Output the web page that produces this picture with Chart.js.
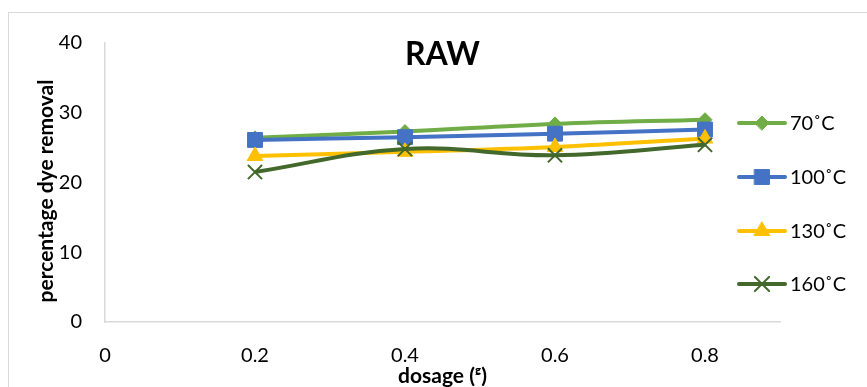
<!DOCTYPE html>
<html>
<head>
<meta charset="utf-8">
<script src="https://cdn.jsdelivr.net/npm/chart.js@4/dist/chart.umd.min.js"></script>
<style>
  html, body { margin: 0; padding: 0; background: #fff; }
  canvas { display: block; }
</style>
</head>
<body>
<canvas id="rawChart" width="867" height="387"></canvas>
<script>
// dosage in grams, removal in %
const dosage = [0.2, 0.4, 0.6, 0.8];
const temp70 = [26.4, 27.3, 28.4, 29.0];
const temp100 = [26.1, 26.5, 27.0, 27.6];
const temp130 = [23.8, 24.4, 25.1, 26.3];
const temp160 = [21.5, 24.8, 23.9, 25.4];
const xTicks = [0, 0.2, 0.4, 0.6, 0.8];
const yTicks = [0, 10, 20, 30, 40];

const seriesLabels = ['70˚C', '100˚C', '130˚C', '160˚C'];
const seriesColors = ['#70AD47', '#4472C4', '#FFC000', '#43682B'];
const seriesValues = [temp70, temp100, temp130, temp160];
const markers = [
  { style: 'rectRot', radius: 7 },
  { style: 'rect', radius: 10.5 },
  { style: 'triangle', radius: 9 },
  { style: 'crossRot', radius: 10 }
];

const FONT = 'Lato, "Open Sans", sans-serif';

// Excel-style legend on the right: line segment with the marker in the middle
const sideLegend = {
  id: 'sideLegend',
  afterDraw(chart) {
    const ctx = chart.ctx;
    const rows = [123, 177, 231, 284];
    ctx.save();
    chart.data.datasets.forEach((ds, i) => {
      const y = rows[i];
      ctx.strokeStyle = ds.borderColor;
      ctx.fillStyle = ds.backgroundColor;
      ctx.lineWidth = 4;
      ctx.lineCap = 'round';
      ctx.beginPath();
      ctx.moveTo(739, y);
      ctx.lineTo(785, y);
      ctx.stroke();
      ctx.lineWidth = ds.pointBorderWidth;
      Chart.helpers.drawPoint(ctx, {
        pointStyle: ds.pointStyle,
        radius: ds.pointRadius,
        borderWidth: ds.pointBorderWidth,
        rotation: 0
      }, 762, y);
      ctx.fillStyle = '#000';
      ctx.font = '20px ' + FONT;
      ctx.textBaseline = 'middle';
      ctx.textAlign = 'left';
      ctx.fillText(ds.label, 790, y + 1);
    });
    ctx.restore();
  }
};

// frame, heading inside the plot area and the rotated y title
const heading = {
  id: 'heading',
  beforeDraw(chart) {
    const ctx = chart.ctx;
    ctx.save();
    ctx.strokeStyle = '#d9d9d9';
    ctx.lineWidth = 1;
    ctx.strokeRect(8.5, 12.5, 900, 400);
    ctx.restore();
  },
  afterDraw(chart) {
    const ctx = chart.ctx;
    const a = chart.chartArea;
    ctx.save();
    ctx.fillStyle = '#000';
    ctx.font = 'bold 32px ' + FONT;
    ctx.textAlign = 'center';
    ctx.textBaseline = 'middle';
    ctx.fillText('RAW', (a.left + a.right) / 2, 55);

    ctx.translate(46, 191);
    ctx.rotate(-Math.PI / 2);
    ctx.font = 'bold 21px ' + FONT;
    ctx.fillText('percentage dye removal', 0, 0);
    ctx.restore();
  }
};

new Chart(document.getElementById('rawChart'), {
  type: 'line',
  data: {
    datasets: seriesValues.map((vals, i) => ({
      label: seriesLabels[i],
      data: dosage.map((d, j) => ({ x: d, y: vals[j] })),
      borderColor: seriesColors[i],
      backgroundColor: seriesColors[i],
      borderWidth: 4,
      tension: 0.4,
      pointStyle: markers[i].style,
      pointRadius: markers[i].radius,
      pointBorderWidth: markers[i].style === 'crossRot' ? 2 : 1,
      pointBorderColor: seriesColors[i],
      pointBackgroundColor: seriesColors[i],
      order: 4 - i
    }))
  },
  options: {
    responsive: false,
    animation: false,
    layout: { padding: { left: 0, top: 43, right: 87, bottom: 0 } },
    plugins: {
      legend: { display: false },
      tooltip: { enabled: false }
    },
    scales: {
      x: {
        type: 'linear',
        min: 0,
        max: 0.9,
        grid: { display: false, drawTicks: false },
        border: { display: true, color: '#d9d9d9', width: 1.5 },
        afterBuildTicks(scale) {
          scale.ticks = xTicks.map(v => ({ value: v }));
        },
        afterFit(scale) { scale.height = 65; },
        ticks: {
          color: '#000',
          padding: 22,
          maxRotation: 0,
          font: { family: FONT, size: 20 },
          callback: v => String(v)
        },
        title: {
          display: true,
          text: 'dosage (ᵍ)',
          color: '#000',
          padding: { top: 0, bottom: 0 },
          font: { family: FONT, size: 21, weight: 'bold', lineHeight: 1 }
        }
      },
      y: {
        min: 0,
        max: 40,
        grid: { display: false, drawTicks: false },
        border: { display: true, color: '#d9d9d9', width: 1.5 },
        afterBuildTicks(scale) {
          scale.ticks = yTicks.map(v => ({ value: v }));
        },
        afterFit(scale) { scale.width = 105; },
        ticks: {
          color: '#000',
          padding: 23,
          font: { family: FONT, size: 20 }
        },
        title: { display: false }
      }
    }
  },
  plugins: [heading, sideLegend]
});
</script>
</body>
</html>
